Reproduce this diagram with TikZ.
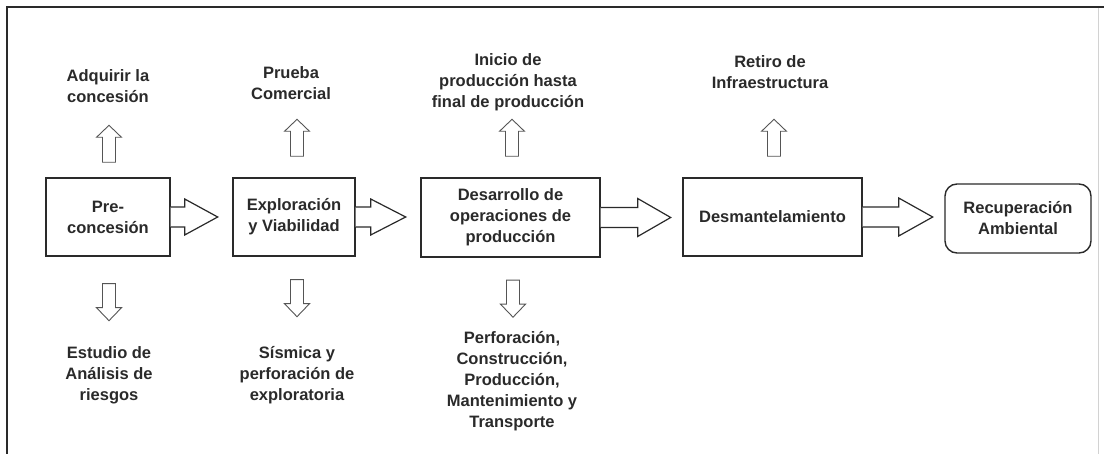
\documentclass[tikz,border=0pt]{standalone}
\usepackage{fontspec}
\setmainfont{Liberation Sans}
\usetikzlibrary{calc}
\definecolor{ink}{HTML}{2A2A2A}
\tikzset{
  stage/.style={draw=ink, line width=1.4pt, fill=white, inner sep=0pt, align=center,
    font=\bfseries\fontsize{16.5}{21}\selectfont, text=ink},
  lbl/.style={inner sep=0pt, align=center, font=\bfseries\fontsize{16.5}{21}\selectfont, text=ink},
  blockarrow/.style={draw=ink, line width=1.2pt, fill=white, line join=miter},
  thinarrow/.style={draw=ink!80, line width=0.9pt, fill=white, line join=miter},
  frameline/.style={draw=ink, line width=2pt}
}
\begin{document}
\begin{tikzpicture}[x=1pt,y=-1pt]
\useasboundingbox (0,0) rectangle (1104,454);
% frame
\draw[frameline] (7,454) -- (7,7) -- (1104,7);
\draw[draw=gray!35, line width=0.8pt] (1098,8) -- (1098,454);

% stage boxes
\node[stage, minimum width=124pt, minimum height=78pt] (b1) at (108,217) {Pre-\\concesión};
\node[stage, minimum width=122pt, minimum height=78pt] (b2) at (294,217) {Exploración\\y Viabilidad};
\node[stage, minimum width=179pt, minimum height=79pt] (b3) at (510.5,217.5) {Desarrollo de\\operaciones de\\producción};
\node[stage, minimum width=179pt, minimum height=78pt] (b4) at (772.5,217) {Desmantelamiento};
\node[stage, rounded corners=12pt, minimum width=146pt, minimum height=69pt] (b5) at (1018,218.5) {Recuperación\\Ambiental};

% horizontal block arrows (start at box edge)
\draw[blockarrow] (b1.east) ++(0,-10) -- ++(14,0) -- ++(0,-8) -- ++(33,18) -- ++(-33,18) -- ++(0,-8) -- ++(-14,0);
\draw[blockarrow] (b2.east) ++(0,-10) -- ++(15,0) -- ++(0,-8) -- ++(35,18) -- ++(-35,18) -- ++(0,-8) -- ++(-15,0);
\draw[blockarrow] (b3.east) ++(0,-10) -- ++(37,0) -- ++(0,-9) -- ++(33,19) -- ++(-33,19) -- ++(0,-9) -- ++(-37,0);
\draw[blockarrow] (b4.east) ++(0,-10) -- ++(36,0) -- ++(0,-9) -- ++(34,19) -- ++(-34,19) -- ++(0,-9) -- ++(-36,0);

% labels above
\node[lbl] (u1) at (108,86.5) {Adquirir la\\concesión};
\node[lbl] (u2) at (291,83) {Prueba\\Comercial};
\node[lbl] (u3) at (508,82.5) {Inicio de\\producción hasta\\final de producción};
\node[lbl] (u4) at (770,72.5) {Retiro de\\Infraestructura};

% labels below
\node[lbl] (d1) at (109,375) {Estudio de\\Análisis de\\riesgos};
\node[lbl] (d2) at (297,375) {Sísmica y\\perforación de\\exploratoria};
\node[lbl] (d3) at (512,381.5) {Perforación,\\Construcción,\\Producción,\\Mantenimiento y\\Transporte};

% up arrows
\coordinate (ua1) at ($(b1.north)+(1,-15)$);
\coordinate (ua2) at ($(b2.north)+(3,-21)$);
\coordinate (ua3) at ($(b3.north)+(1.5,-21)$);
\coordinate (ua4) at ($(b4.north)+(1.5,-21)$);
\foreach \c in {ua1,ua2,ua3,ua4}{
  \draw[thinarrow] (\c) ++(-6.5,0) -- ++(0,-25) -- ++(-6,0) -- ++(12.5,-12) -- ++(12.5,12) -- ++(-6,0) -- ++(0,25) -- cycle;
}
% down arrows
\coordinate (da1) at ($(b1.south)+(1,27)$);
\coordinate (da2) at ($(b2.south)+(3,23)$);
\coordinate (da3) at ($(b3.south)+(2.5,22.5)$);
\foreach \c in {da1,da2,da3}{
  \draw[thinarrow] (\c) ++(-6.5,0) -- ++(0,24) -- ++(-6,0) -- ++(12.5,13) -- ++(12.5,-13) -- ++(-6,0) -- ++(0,-24) -- cycle;
}
\end{tikzpicture}
\end{document}
